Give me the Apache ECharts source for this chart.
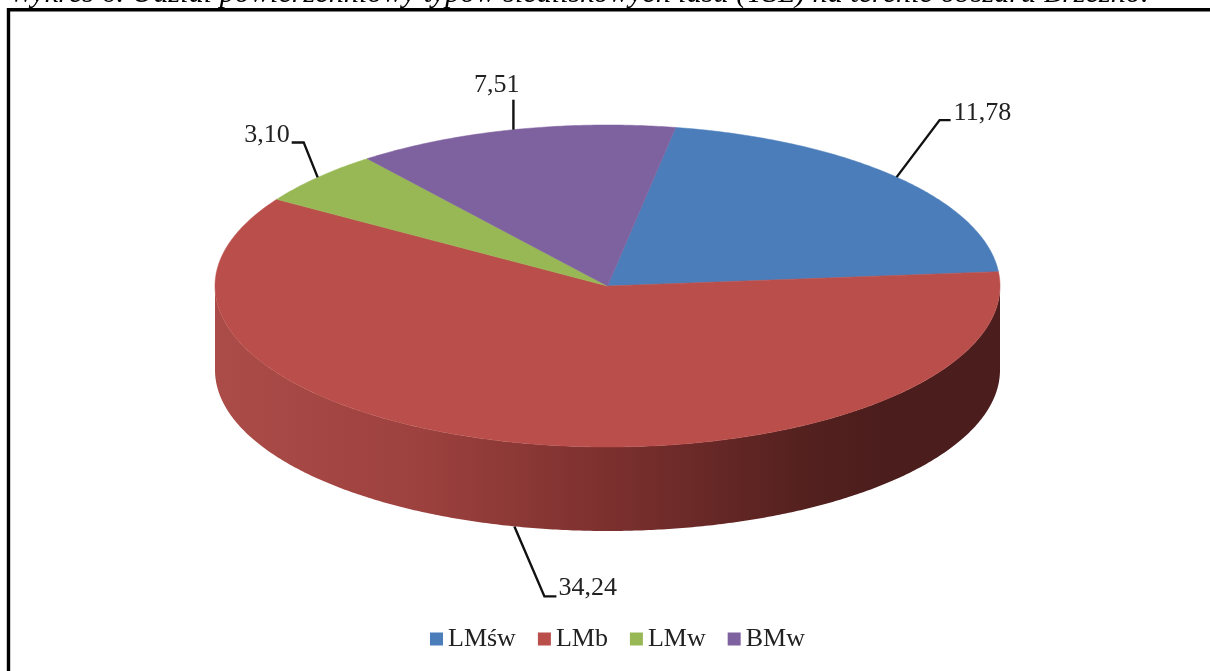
<!DOCTYPE html>
<html>
<head>
<meta charset="utf-8">
<style>html,body{margin:0;padding:0;background:#fff;overflow:hidden}#c{width:1210px;height:671px}</style>
<script src="https://cdn.jsdelivr.net/npm/echarts@6/dist/echarts.min.js"></script>
</head>
<body>
<div id="c"></div>
<script>
const categories = ['LMśw', 'LMb', 'LMw', 'BMw'];
const values = [11.78, 34.24, 3.10, 7.51];
const colors = ['#4A7DBA', '#BA4E4B', '#98B855', '#7E619F'];
const titleText = 'Wykres 6. Udział powierzchniowy typów siedliskowych lasu (TSL) na terenie obszaru Brzeźno.';

// layout of the tilted disc
const CX = 607.5, CY = 286, RX = 392.5, RY = 161, DEPTH = 84, START = 10;
// leader elbows and label anchors relative to each slice's rim point
const leaders = [
  {elbow: [43, -57], end: [54, -57], text: [57, -64], align: 'left'},
  {elbow: [30, 70], end: [42, 70], text: [44, 62], align: 'left'},
  {elbow: [-14, -35], end: [-26, -35], text: [-28, -42], align: 'right'},
  {elbow: [0, -15], end: [0, -30], text: [6, -45], align: 'right'}
];
const FONT = '"Liberation Serif","Times New Roman",serif';
const total = values.reduce((a, b) => a + b, 0);
const rim = (deg, dy) => {
  const r = deg * Math.PI / 180;
  return [CX + RX * Math.sin(r), CY - RY * Math.cos(r) + (dy || 0)];
};
const arc = (a0, a1, dy) => {
  const pts = [], n = Math.max(2, Math.ceil(Math.abs(a1 - a0) * 2));
  for (let i = 0; i <= n; i++) pts.push(rim(a0 + (a1 - a0) * i / n, dy));
  return pts;
};
const wallFill = {
  type: 'linear', x: 215, y: 0, x2: 1000, y2: 0, global: true,
  colorStops: [
    {offset: 0, color: '#AB4C48'},
    {offset: 0.25, color: '#9E423F'},
    {offset: 0.5, color: '#7C302E'},
    {offset: 0.75, color: '#54211F'},
    {offset: 0.85, color: '#4B1D1C'},
    {offset: 1, color: '#4B1D1C'}
  ]
};

function renderSlice(index) {
  return function (params, api) {
    const before = values.slice(0, index).reduce((a, b) => a + b, 0);
    const a0 = START + before / total * 360;
    const a1 = a0 + values[index] / total * 360;
    const mid = (a0 + a1) / 2;
    const children = [];
    const w0 = Math.max(a0, 90), w1 = Math.min(a1, 270);
    if (w1 > w0) {
      children.push({
        type: 'polygon',
        shape: {points: arc(w0, w1, 0).concat(arc(w1, w0, DEPTH))},
        style: {fill: wallFill}
      });
    }
    children.push({
      type: 'polygon',
      shape: {points: [[CX, CY]].concat(arc(a0, a1, 0))},
      style: {fill: colors[index], stroke: colors[index], lineWidth: 0.5}
    });
    const onFront = mid > 90 && mid < 270;
    const p = rim(mid, onFront ? DEPTH : 0);
    const L = leaders[index];
    const pt = o => [p[0] + o[0], p[1] + o[1]];
    children.push({
      type: 'polyline',
      shape: {points: [p, pt(L.elbow), pt(L.end)]},
      style: {stroke: '#111', lineWidth: 2.4, fill: null}
    });
    const tp = pt(L.text);
    children.push({
      type: 'text',
      style: {
        x: tp[0], y: tp[1],
        text: values[index].toFixed(2).replace('.', ','),
        fontFamily: FONT, fontSize: 26, fill: '#222',
        textAlign: L.align, textVerticalAlign: 'middle'
      }
    });
    return {type: 'group', children};
  };
}

const chart = echarts.init(document.getElementById('c'), null, {renderer: 'canvas'});
chart.setOption({
  animation: false,
  backgroundColor: '#fff',
  legend: {
    data: categories,
    left: 430, top: 626,
    icon: 'rect',
    itemWidth: 13, itemHeight: 13, itemGap: 22,
    textStyle: {fontFamily: FONT, fontSize: 26, color: '#222', padding: [0, 0, 0, 0]},
    padding: 0
  },
  graphic: [
    {type: 'polyline', silent: true,
     shape: {points: [[8.5, 680], [8.5, 9.7], [1220, 9.7]]},
     style: {stroke: '#000', lineWidth: 3.4, fill: null}},
    {type: 'text', silent: true, x: 9, y: -21,
     style: {text: titleText, fontFamily: FONT, fontStyle: 'italic',
             fontSize: 30.2, fill: '#000'}}
  ],
  series: categories.map((name, i) => ({
    type: 'custom',
    name,
    coordinateSystem: 'none',
    itemStyle: {color: colors[i]},
    data: [values[i]],
    renderItem: renderSlice(i)
  }))
});
</script>
</body>
</html>
